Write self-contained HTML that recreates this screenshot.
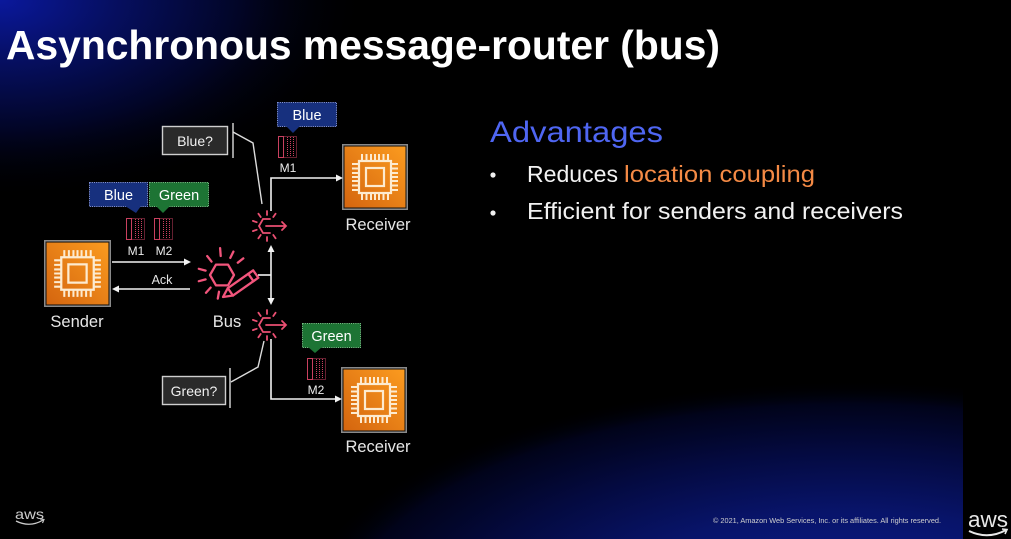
<!DOCTYPE html>
<html><head><meta charset="utf-8">
<style>html,body{margin:0;padding:0;background:#000;overflow:hidden;}svg{display:block;}</style></head>
<body>
<svg width="1011" height="539" viewBox="0 0 1011 539" xmlns="http://www.w3.org/2000/svg" font-family="'Liberation Sans', sans-serif">
<defs>
  <radialGradient id="tl" gradientUnits="userSpaceOnUse" cx="0" cy="0" r="1" gradientTransform="scale(370,200)">
    <stop offset="0" stop-color="#0a189c"/>
    <stop offset="0.3" stop-color="#060f62"/>
    <stop offset="0.65" stop-color="#020526"/>
    <stop offset="1" stop-color="#000" stop-opacity="0"/>
  </radialGradient>
  <radialGradient id="br" gradientUnits="userSpaceOnUse" cx="0" cy="0" r="1" gradientTransform="translate(850,620) scale(560,240)">
    <stop offset="0" stop-color="#0c1e96"/>
    <stop offset="0.45" stop-color="#08146a"/>
    <stop offset="0.7" stop-color="#040a40"/>
    <stop offset="0.9" stop-color="#01031a"/>
    <stop offset="1" stop-color="#000" stop-opacity="0"/>
  </radialGradient>
  <linearGradient id="org" x1="0" y1="1" x2="1" y2="0">
    <stop offset="0" stop-color="#d4650f"/>
    <stop offset="1" stop-color="#fb9b1f"/>
  </linearGradient>
  <symbol id="chip" viewBox="0 0 66 66">
    <rect x="0.75" y="0.75" width="64.5" height="64.5" fill="#111" stroke="#8a8a8a" stroke-width="1.5"/>
    <rect x="2.5" y="2.5" width="61" height="61" fill="url(#org)"/>
    <g fill="none" stroke="#fdebd0" stroke-width="2.2">
      <rect x="17" y="17" width="32" height="32"/>
      <rect x="24" y="24" width="18" height="18"/>
    </g>
    <g stroke="#fdebd0" stroke-width="2">
      <path d="M20,10v7M24.5,10v7M29,10v7M33,10v7M37,10v7M41.5,10v7M46,10v7"/>
      <path d="M20,49v7M24.5,49v7M29,49v7M33,49v7M37,49v7M41.5,49v7M46,49v7"/>
      <path d="M10,20h7M10,24.5h7M10,29h7M10,33h7M10,37h7M10,41.5h7M10,46h7"/>
      <path d="M49,20h7M49,24.5h7M49,29h7M49,33h7M49,37h7M49,41.5h7M49,46h7"/>
    </g>
  </symbol>
  <symbol id="msg" viewBox="0 0 19 22">
    <rect x="0.5" y="0.5" width="5" height="21" fill="none" stroke="#c9405f" stroke-width="1"/>
    <rect x="5.5" y="0.5" width="13" height="21" fill="none" stroke="#c9405f" stroke-width="1" stroke-dasharray="1 1"/>
    <path d="M9.5,1v20M12.5,1v20M15.5,1v20" stroke="#c9405f" stroke-width="1" stroke-dasharray="1 1"/>
  </symbol>
  <symbol id="router" viewBox="-20 -20 44 40">
    <g fill="none" stroke="#ea4f72" stroke-width="1.8" stroke-linecap="round">
      <path d="M3,-7H-4L-8,0L-4,7H3"/>
      <path d="M-1,0H19M15,-4L19,0L15,4"/>
      <path d="M-10.3,-3.8L-14.1,-5.1M-6.3,-9L-8.6,-12.3M0,-11V-15M6.3,-9L8.6,-12.3M-10.3,3.8L-14.1,5.1M-6.3,9L-8.6,12.3M0,11V15M6.3,9L8.6,12.3"/>
    </g>
  </symbol>
</defs>

<!-- background -->
<rect width="1011" height="539" fill="#000"/>
<rect width="1011" height="539" fill="url(#tl)"/>
<rect width="963" height="539" fill="url(#br)"/>
<rect x="963" width="48" height="539" fill="#000"/>

<!-- title -->
<text x="6" y="59" font-size="41" font-weight="bold" fill="#fff" textLength="714" lengthAdjust="spacingAndGlyphs">Asynchronous message-router (bus)</text>

<!-- right text -->
<text x="490" y="142" font-size="30" fill="#4f66f2" textLength="173" lengthAdjust="spacingAndGlyphs">Advantages</text>
<circle cx="493" cy="175" r="2.6" fill="#f0f0f0"/>
<text x="527" y="182" font-size="23" fill="#f2f2f2" textLength="91" lengthAdjust="spacingAndGlyphs">Reduces</text>
<text x="624" y="182" font-size="23" fill="#f48a45" textLength="191" lengthAdjust="spacingAndGlyphs">location coupling</text>
<circle cx="493" cy="213" r="2.6" fill="#f0f0f0"/>
<text x="527" y="219" font-size="23" fill="#f2f2f2" textLength="376" lengthAdjust="spacingAndGlyphs">Efficient for senders and receivers</text>

<!-- boxes -->
<use href="#chip" x="44" y="239" width="67" height="69"/>
<use href="#chip" x="342" y="144" width="66" height="66"/>
<use href="#chip" x="341" y="367" width="66" height="66"/>

<g fill="#e6e6e6" font-size="16.5" text-anchor="middle">
  <text x="77" y="327">Sender</text>
  <text x="227" y="327">Bus</text>
  <text x="378" y="230">Receiver</text>
  <text x="378" y="452">Receiver</text>
</g>

<!-- connectors -->
<g stroke="#f2f2f2" stroke-width="1.6" fill="none">
  <path d="M112,262H185"/>
  <path d="M118,289H190"/>
  <path d="M271,251V299"/>
  <path d="M258,275H271"/>
  <path d="M271,211V178H337"/>
  <path d="M271,339V399H336"/>
</g>
<g fill="#f2f2f2">
  <polygon points="191,262 184,258.5 184,265.5"/>
  <polygon points="112,289 119,285.5 119,292.5"/>
  <polygon points="271,245 267.5,252 274.5,252"/>
  <polygon points="271,305 267.5,298 274.5,298"/>
  <polygon points="343,178 336,174.5 336,181.5"/>
  <polygon points="342,399 335,395.5 335,402.5"/>
</g>
<text x="162" y="284" font-size="12.5" fill="#e6e6e6" text-anchor="middle">Ack</text>

<!-- filter query boxes -->
<g stroke="#dcdcdc" stroke-width="1.4" fill="none">
  <path d="M233,132L253,143L262,204"/>
  <path d="M233,123V158"/>
  <path d="M231,382L258,367L264,341"/>
  <path d="M230,368V408"/>
</g>
<rect x="162.5" y="126.5" width="65" height="28" fill="#2a2a2a" stroke="#cfcfcf" stroke-width="1.4"/>
<text x="195" y="146" font-size="14" fill="#f0f0f0" text-anchor="middle">Blue?</text>
<rect x="162.5" y="376.5" width="63" height="28" fill="#2a2a2a" stroke="#cfcfcf" stroke-width="1.4"/>
<text x="194" y="396" font-size="14" fill="#f0f0f0" text-anchor="middle">Green?</text>

<!-- bus icon -->
<g stroke="#f2557c" stroke-width="2.3" fill="none" stroke-linecap="round" stroke-linejoin="round">
  <path d="M234,275L228,285.4L216,285.4L210,275L216,264.6L228,264.6Z"/>
  <path d="M205.6,270.6L198.8,268.8M211.5,261.6L207.2,256.1M220.7,256L220.1,248.1M230.3,257.9L233.4,251.6M237.8,262.7L243.3,258.4M205.6,279.4L198.8,281.2M210.6,287.6L206,292.8M219,291.7L217.8,298.6"/>
  <g transform="translate(223,297) rotate(-35)">
    <path d="M0,0L9,-4.5H40V4.5H9Z" fill="#000"/>
    <path d="M9,-4.5V4.5M34,-4.5V4.5"/>
  </g>
</g>

<!-- routers -->
<use href="#router" x="247" y="206" width="44" height="40"/>
<use href="#router" x="247" y="305" width="44" height="40"/>

<!-- tags -->
<g stroke-width="1" stroke-dasharray="1.2 1">
  <rect x="89.5" y="182.5" width="58" height="24" fill="#17307e" stroke="#8294dc"/>
  <rect x="149.5" y="182.5" width="59" height="24" fill="#1d7434" stroke="#74c484"/>
  <rect x="277.5" y="102.5" width="59" height="24" fill="#17307e" stroke="#8294dc"/>
  <rect x="302.5" y="323.5" width="58" height="24" fill="#1d7434" stroke="#74c484"/>
</g>
<polygon points="125,206 141,206 136,213" fill="#17307e"/>
<polygon points="156,206 170,206 163,213" fill="#1d7434"/>
<polygon points="286,126 300,126 293,133" fill="#17307e"/>
<polygon points="308,347 322,347 315,353" fill="#1d7434"/>
<g fill="#fff" font-size="14.5" text-anchor="middle">
  <text x="118.5" y="200">Blue</text>
  <text x="179" y="200">Green</text>
  <text x="307" y="120">Blue</text>
  <text x="331.5" y="341">Green</text>
</g>

<!-- messages -->
<use href="#msg" x="126" y="218" width="19" height="22"/>
<use href="#msg" x="154" y="218" width="19" height="22"/>
<use href="#msg" x="278" y="136" width="19" height="22"/>
<use href="#msg" x="307" y="358" width="19" height="22"/>
<g fill="#ececec" font-size="12" text-anchor="middle">
  <text x="136" y="255">M1</text>
  <text x="164" y="255">M2</text>
  <text x="288" y="172">M1</text>
  <text x="316" y="394">M2</text>
</g>

<!-- footer -->
<text x="15" y="519" font-size="14" fill="#cccccc" textLength="29" lengthAdjust="spacingAndGlyphs">aws</text>
<path d="M16,521Q30,528 43,520" stroke="#cccccc" stroke-width="1.3" fill="none"/>
<path d="M40,519L44,519.5L42.5,523" stroke="#cccccc" stroke-width="1.1" fill="none"/>
<text x="713" y="523" font-size="7" fill="#cfcfcf" textLength="228" lengthAdjust="spacingAndGlyphs">© 2021, Amazon Web Services, Inc. or its affiliates. All rights reserved.</text>
<text x="968" y="527" font-size="22" fill="#e8e8e8" textLength="40" lengthAdjust="spacingAndGlyphs">aws</text>
<path d="M969,531Q988,540 1006,530" stroke="#e8e8e8" stroke-width="2" fill="none"/>
<path d="M1002,529L1007,529.5L1005,534" stroke="#e8e8e8" stroke-width="1.6" fill="none"/>
</svg>
</body></html>
